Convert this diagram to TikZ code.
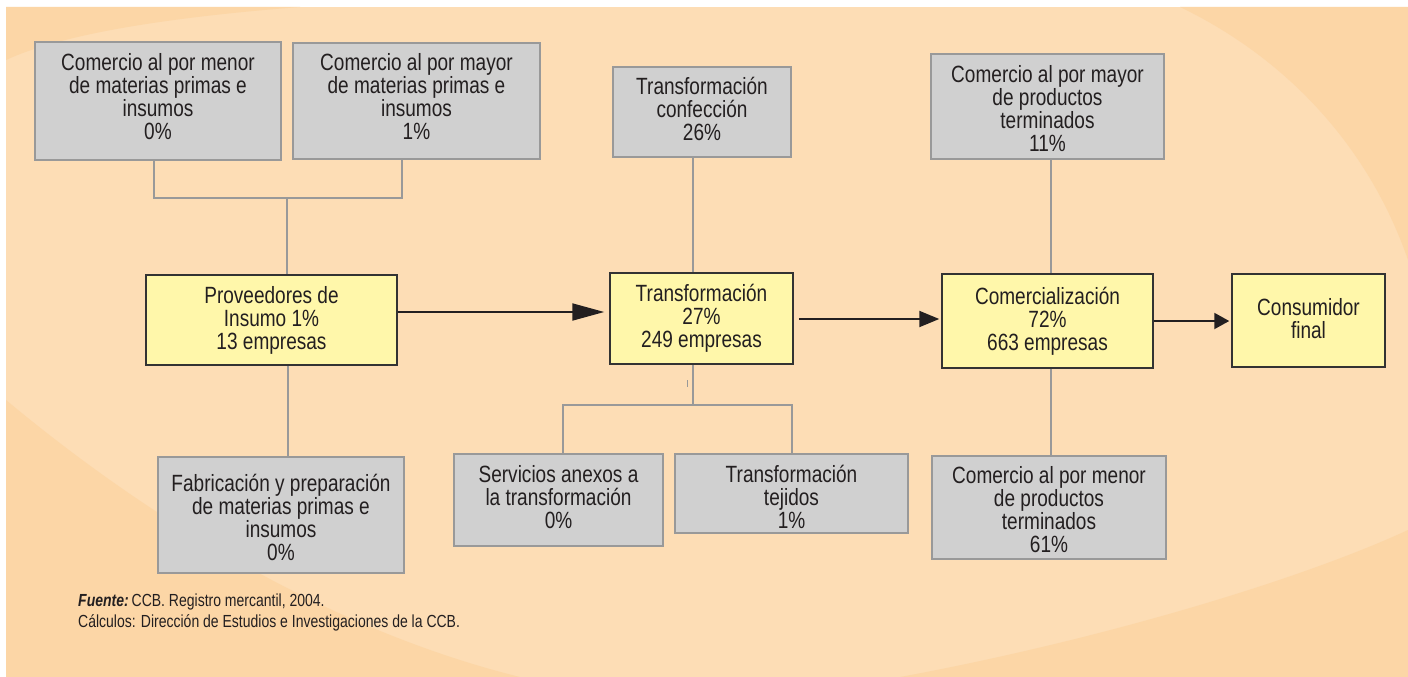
\documentclass[tikz,border=0pt]{standalone}
\usepackage{fontspec}
\setmainfont{Liberation Sans}[FakeStretch=0.81]
\newfontfamily\footfont{Liberation Sans}[FakeStretch=0.8]
\usetikzlibrary{arrows.meta}
\definecolor{peachbase}{HTML}{FDDDB5}
\definecolor{peachdark}{HTML}{FCD6A6}
\definecolor{grayfill}{HTML}{D0D0D0}
\definecolor{grayline}{HTML}{999999}
\definecolor{yellowfill}{HTML}{FFF7AA}
\definecolor{darkline}{HTML}{333333}
\definecolor{txt}{HTML}{231F20}
\tikzset{
  graybox/.style={draw=grayline, line width=2pt, fill=grayfill, inner sep=0pt},
  yellowbox/.style={draw=darkline, line width=1.5pt, fill=yellowfill, inner sep=0pt},
  boxtext/.style={inner sep=0pt, align=center, text=txt, font=\fontsize{23.5}{23}\selectfont},
  conn/.style={draw=grayline, line width=2.5pt},
  arr/.style={draw=txt, line width=2pt},
}
\begin{document}
\begin{tikzpicture}[x=1pt,y=-1pt]
\useasboundingbox (0,0) rectangle (1408,677);
\fill[white] (0,0) rectangle (1408,677);
\fill[peachbase] (6,7) rectangle (1408,677);
% subtle darker areas of the background
\fill[peachdark] (6,7) -- (300,7) .. controls (160,18) and (60,35) .. (6,60) -- cycle;
\fill[peachdark] (1180,7) .. controls (1290,60) and (1370,150) .. (1408,260) -- (1408,7) -- cycle;
\fill[peachdark] (900,677) .. controls (1100,640) and (1300,580) .. (1408,530) -- (1408,677) -- cycle;
\fill[peachdark] (6,400) .. controls (150,520) and (330,630) .. (520,677) -- (6,677) -- cycle;

% gray boxes
\node[graybox, minimum width=246pt, minimum height=118pt] (A) at (158,101) {};
\node[graybox, minimum width=247pt, minimum height=116pt] (B) at (416.5,101) {};
\node[graybox, minimum width=178pt, minimum height=90pt] (TC) at (702,112) {};
\node[graybox, minimum width=233pt, minimum height=105pt] (CM) at (1047.5,106.5) {};
\node[graybox, minimum width=246pt, minimum height=116pt] (F) at (281,515) {};
\node[graybox, minimum width=209pt, minimum height=92pt] (S) at (558.5,500) {};
\node[graybox, minimum width=233pt, minimum height=79pt] (TJ) at (791.5,493.5) {};
\node[graybox, minimum width=234pt, minimum height=103pt] (CMe) at (1049,507.5) {};
% yellow boxes
\node[yellowbox, minimum width=251pt, minimum height=90pt] (P) at (271.5,320) {};
\node[yellowbox, minimum width=183pt, minimum height=91pt] (T) at (701.5,318.5) {};
\node[yellowbox, minimum width=211pt, minimum height=94pt] (C) at (1047.5,321) {};
\node[yellowbox, minimum width=153pt, minimum height=93pt] (K) at (1308.5,320.5) {};

% box texts
\node[boxtext] (A-t) at ([yshift=4.5pt]A.center) {Comercio al por menor\\de materias primas e\\insumos\\0\%};
\node[boxtext] (B-t) at ([yshift=4.5pt]B.center) {Comercio al por mayor\\de materias primas e\\insumos\\1\%};
\node[boxtext] (TC-t) at ([yshift=3pt]TC.center) {Transformación\\confección\\26\%};
\node[boxtext] (CM-t) at ([yshift=-2.5pt]CM.center) {Comercio al por mayor\\de productos\\terminados\\11\%};
\node[boxtext] (F-t) at ([yshift=-2.5pt]F.center) {Fabricación y preparación\\de materias primas e\\insumos\\0\%};
\node[boxtext] (S-t) at ([yshift=3pt]S.center) {Servicios anexos a\\la transformación\\0\%};
\node[boxtext] (TJ-t) at ([yshift=-3pt]TJ.center) {Transformación\\tejidos\\1\%};
\node[boxtext] (CMe-t) at ([yshift=-2.5pt]CMe.center) {Comercio al por menor\\de productos\\terminados\\61\%};
\node[boxtext] (P-t) at (P.center) {Proveedores de\\Insumo 1\%\\13 empresas};
\node[boxtext] (T-t) at (T.center) {Transformación\\27\%\\249 empresas};
\node[boxtext] (C-t) at (C.center) {Comercialización\\72\%\\663 empresas};
\node[boxtext] (K-t) at ([yshift=1.5pt]K.center) {Consumidor\\final};

% connectors
\coordinate (jA) at (287,198);
\draw[conn] ([xshift=-4pt]A.south) |- (jA) -| ([xshift=-14.5pt]B.south);
\draw[conn] (jA) -- (jA |- P.north);
\draw[conn] ([xshift=16.5pt]P.south) -- ([xshift=16.5pt]P.south |- F.north);
\draw[conn] ([xshift=-9pt]TC.south) -- ([xshift=-9pt]TC.south |- T.north);
\coordinate (jT) at (693,405);
\draw[conn] (jT |- T.south) -- (jT);
\draw[conn] ([xshift=4.5pt]S.north) |- (jT) -| ([xshift=0.5pt]TJ.north);
\draw[grayline, line width=1pt] (687,380) -- (687,387);
\draw[conn] ([xshift=3.5pt]CM.south) -- ([xshift=3.5pt]CM.south |- C.north);
\draw[conn] ([xshift=3.5pt]C.south) -- ([xshift=3.5pt]C.south |- CMe.north);

% arrows
\draw[arr, -{Triangle[length=32pt,width=17pt]}, shorten >=5pt] ([yshift=8pt]P.east) -- ([yshift=8pt]P.east -| T.west);
\draw[arr, -{Triangle[length=20pt,width=16pt]}, shorten <=5pt, shorten >=2pt] ([yshift=-0.5pt]T.east) -- ([yshift=-0.5pt]T.east -| C.west);
\draw[arr, -{Triangle[length=15pt,width=16pt]}, shorten >=2pt] (C.east) -- (C.east -| K.west);

% source note
\node[anchor=west, align=left, text=txt, inner sep=0pt, font=\footfont\fontsize{17.5}{21.7}\selectfont] (src) at (78,612.5)
  {\textbf{\textit{Fuente:}}\kern-1pt\ CCB. Registro mercantil, 2004.\\Cálculos: Dirección de Estudios e Investigaciones de la CCB.};
\end{tikzpicture}
\end{document}
